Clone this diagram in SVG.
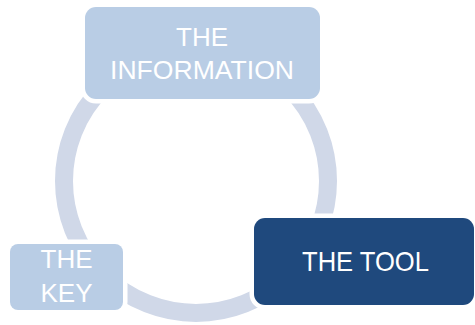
<svg xmlns="http://www.w3.org/2000/svg" width="475" height="325" viewBox="0 0 475 325">
  <style>
    .light { fill: #B9CDE5; stroke: #FFFFFF; stroke-width: 9; paint-order: stroke fill; }
    .dark { fill: #1F497D; stroke: #FFFFFF; stroke-width: 9; paint-order: stroke fill; }
    .lbl { font-family: "Liberation Sans", Arial, sans-serif; fill: #FFFFFF; text-anchor: middle; font-size: 26px; }
  </style>
  <rect width="475" height="325" fill="#FFFFFF"/>
  <g id="connectors">
    <circle cx="196" cy="181" r="132" fill="none" stroke="#D0D8E8" stroke-width="18"/>
  </g>
  <g id="information">
    <rect class="light" x="85" y="7" width="235" height="92" rx="11"/>
    <text class="lbl" x="202" y="46">THE</text>
    <text class="lbl" x="202" y="79" textLength="184" lengthAdjust="spacingAndGlyphs">INFORMATION</text>
  </g>
  <g id="key">
    <rect class="light" x="10" y="244" width="113" height="66" rx="8"/>
    <text class="lbl" x="66.5" y="268">THE</text>
    <text class="lbl" x="66.5" y="302">KEY</text>
  </g>
  <g id="tool">
    <rect class="dark" x="254" y="218" width="220" height="87" rx="11"/>
    <text class="lbl" x="365.5" y="271" style="font-size:28px" textLength="127" lengthAdjust="spacingAndGlyphs">THE TOOL</text>
  </g>
</svg>
